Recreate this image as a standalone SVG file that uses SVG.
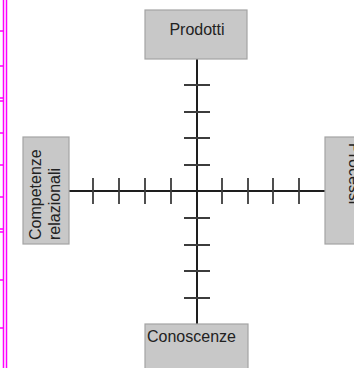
<svg xmlns="http://www.w3.org/2000/svg" width="354" height="368" viewBox="0 0 354 368">
<style>
.box{fill:#c8c8c8;stroke:#a4a4a4;stroke-width:1.2}
.lbl{font-family:"Liberation Sans",Arial,sans-serif;font-size:16px;fill:#222}
.axis{stroke:#1e1e1e;stroke-width:2;fill:none}
.tick{stroke:#3c3c3c;stroke-width:1.8;fill:none}
.mag{stroke:#ff00ff;stroke-width:1.5;fill:none}
</style>
<rect width="354" height="368" fill="#fff"/>
<g id="margin">
<path class="mag" d="M3.5 0V368M6.5 0V368M0 31H3.5M0 66H3.5M0 98H3.5M0 101H3.5M0 133H3.5M0 165H3.5M0 197H3.5M0 229H3.5M0 232H3.5M0 280H3.5M0 328H3.5"/>
</g>
<g id="connectors">
<path class="axis" d="M197 59V324M69 191H325"/>
<path class="tick" d="M184 85H210M184 112H210M184 138H210M184 165H210M184 218H210M184 245H210M184 271H210M184 298H210"/>
<path class="tick" d="M93 178V204M119 178V204M145 178V204M171 178V204M222 178V204M248 178V204M273 178V204M299 178V204"/>
</g>
<g id="node-prodotti">
<rect class="box" x="145" y="10" width="102" height="49"/>
<text class="lbl" x="197" y="35" text-anchor="middle">Prodotti</text>
</g>
<g id="node-conoscenze">
<rect class="box" x="145" y="324" width="103" height="50"/>
<text class="lbl" x="147" y="342">Conoscenze</text>
</g>
<g id="node-competenze">
<rect class="box" x="23" y="137" width="46" height="107"/>
<text class="lbl" transform="translate(41,240) rotate(-90)"><tspan x="0" y="0">Competenze</tspan><tspan x="0" y="19">relazionali</tspan></text>
</g>
<g id="node-processi">
<rect class="box" x="325" y="137" width="40" height="107"/>
<text class="lbl" transform="translate(349,143) rotate(90)">Processi</text>
</g>
</svg>
